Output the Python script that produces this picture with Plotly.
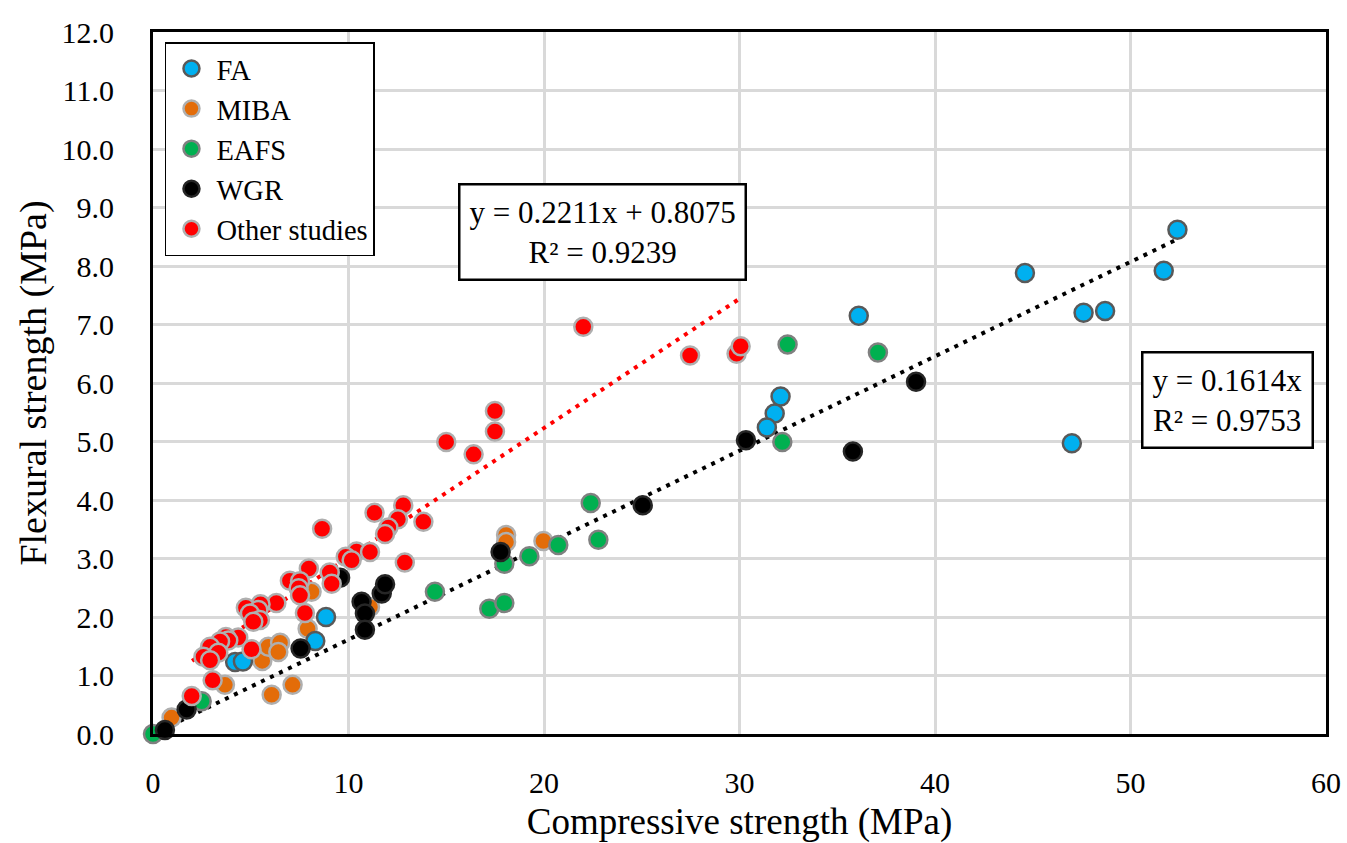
import plotly.graph_objects as go

# ---------------- data ----------------
fa_x = [52.4, 44.6, 51.7, 47.6, 48.7, 36.1, 47.0, 32.1, 31.8, 31.4, 8.85, 8.3, 4.2, 4.6]
fa_y = [8.62, 7.88, 7.92, 7.20, 7.23, 7.15, 4.97, 5.77, 5.48, 5.24, 2.00, 1.59, 1.23, 1.24]

miba_x = [0.95, 3.68, 6.07, 7.14, 5.59, 5.90, 6.50, 6.41, 7.91, 8.11, 11.1, 18.06, 18.06, 19.97]
miba_y = [0.28, 0.84, 0.67, 0.84, 1.25, 1.49, 1.56, 1.40, 1.80, 2.43, 2.17, 3.40, 3.28, 3.30]

eafs_x = [0.0, 2.49, 14.42, 17.2, 17.97, 17.97, 19.25, 20.73, 22.39, 22.78, 32.46, 32.19, 37.08]
eafs_y = [0.0, 0.56, 2.43, 2.14, 2.24, 2.91, 3.04, 3.23, 3.95, 3.32, 6.66, 4.99, 6.52]

wgr_x = [0.61, 1.72, 7.55, 9.57, 10.67, 10.84, 10.84, 11.70, 11.87, 17.78, 25.05, 30.33, 35.8, 39.03]
wgr_y = [0.07, 0.42, 1.46, 2.67, 2.26, 2.06, 1.78, 2.40, 2.56, 3.11, 3.91, 5.02, 4.83, 6.02]

other_x = [22.01, 27.47, 29.85, 30.06, 15.0, 16.4, 17.49, 17.49, 13.83, 12.8, 11.33, 12.53,
           12.04, 11.87, 8.65, 10.41, 9.86, 10.16, 11.1, 12.88, 7.97, 9.04, 9.14, 7.0, 7.52,
           7.45, 7.52, 7.77, 6.31, 5.5, 4.75, 5.39, 4.96, 5.47, 5.13, 4.36, 3.73, 3.85, 3.43,
           2.92, 3.34, 2.58, 2.92, 5.04, 3.05, 1.98]
other_y = [6.96, 6.47, 6.50, 6.63, 4.99, 4.78, 5.52, 5.17, 3.63, 3.91, 3.78, 3.67,
           3.53, 3.42, 3.51, 3.12, 3.03, 2.97, 3.11, 2.93, 2.83, 2.76, 2.57, 2.62, 2.61,
           2.49, 2.37, 2.07, 2.24, 2.22, 2.16, 2.12, 2.06, 1.95, 1.92, 1.65, 1.66, 1.60, 1.58,
           1.49, 1.39, 1.32, 1.26, 1.45, 0.92, 0.65]

# trendline coefficients (as printed on the chart) and their x extents
all_slope = 0.1614
all_range = [0.0, 52.4]
other_slope = 0.2211
other_intercept = 0.8075
other_range = [2.0, 30.0]

x_ticks = [0, 10, 20, 30, 40, 50, 60]
y_ticks = [0, 1, 2, 3, 4, 5, 6, 7, 8, 9, 10, 11, 12]

FONT = "Liberation Serif, Times New Roman, serif"

fig = go.Figure()

def add_series(name, xs, ys, fill, edge, rank):
    fig.add_trace(go.Scatter(
        x=xs, y=ys, mode="markers", name=name, legendrank=rank,
        marker=dict(size=18, color=fill, line=dict(color=edge, width=2.5)),
        cliponaxis=False,
    ))

# trendlines
fig.add_trace(go.Scatter(
    x=all_range, y=[all_slope * v for v in all_range], mode="lines",
    line=dict(color="black", width=4, dash="4px,6px"), showlegend=False, hoverinfo="skip"))
fig.add_trace(go.Scatter(
    x=other_range, y=[other_slope * v + other_intercept for v in other_range], mode="lines",
    line=dict(color="#FF0000", width=4, dash="4px,6px"), showlegend=False, hoverinfo="skip"))

add_series("MIBA", miba_x, miba_y, "#E36C09", "#AFAFAF", 2)
add_series("EAFS", eafs_x, eafs_y, "#00B050", "#808080", 3)
add_series("FA", fa_x, fa_y, "#00B0F0", "#595959", 1)
add_series("WGR", wgr_x, wgr_y, "#000000", "#262626", 4)
add_series("Other studies", other_x, other_y, "#FF0000", "#AFAFAF", 5)

fig.add_annotation(
    x=23.0, y=8.575, xref="x", yref="y", xanchor="center", yanchor="middle",
    text="y = 0.2211x + 0.8075<br>R² = 0.9239", showarrow=False,
    font=dict(family=FONT, size=31, color="black"),
    bgcolor="white", bordercolor="black", borderwidth=2.5, borderpad=9)
fig.add_annotation(
    x=54.96, y=5.717, xref="x", yref="y", xanchor="center", yanchor="middle",
    text="y = 0.1614x<br>R² = 0.9753", showarrow=False,
    font=dict(family=FONT, size=31, color="black"),
    bgcolor="white", bordercolor="black", borderwidth=2.5, borderpad=9)

axis_common = dict(
    showgrid=True, gridcolor="#D9D9D9", gridwidth=2.5,
    showline=True, linecolor="black", linewidth=3, mirror=True,
    ticks="", zeroline=False, automargin=False,
    tickfont=dict(family=FONT, size=30, color="black"),
)

fig.update_layout(
    width=1347, height=843,
    margin=dict(l=153, r=21, t=32, b=109),
    paper_bgcolor="white", plot_bgcolor="white",
    font=dict(family=FONT, color="black"),
    showlegend=True,
    legend=dict(
        x=0.0102, y=0.9857, xanchor="left", yanchor="top",
        bgcolor="white", bordercolor="black", borderwidth=1.5,
        font=dict(family=FONT, size=28.5, color="black"),
        itemsizing="trace", traceorder="normal", itemwidth=40,
        tracegroupgap=0,
    ),
    xaxis=dict(
        range=[0, 60], tickvals=x_ticks, ticktext=[str(v) for v in x_ticks],
        ticklabelstandoff=20,
        title=dict(text="Compressive strength (MPa)", font=dict(family=FONT, size=37), standoff=14),
        **axis_common),
    yaxis=dict(
        range=[0, 12], tickvals=y_ticks, ticktext=[f"{v:.1f}" for v in y_ticks],
        ticklabelstandoff=30,
        title=dict(text="Flexural strength (MPa)", font=dict(family=FONT, size=38), standoff=4),
        **axis_common),
)

fig.write_html("out.html")
